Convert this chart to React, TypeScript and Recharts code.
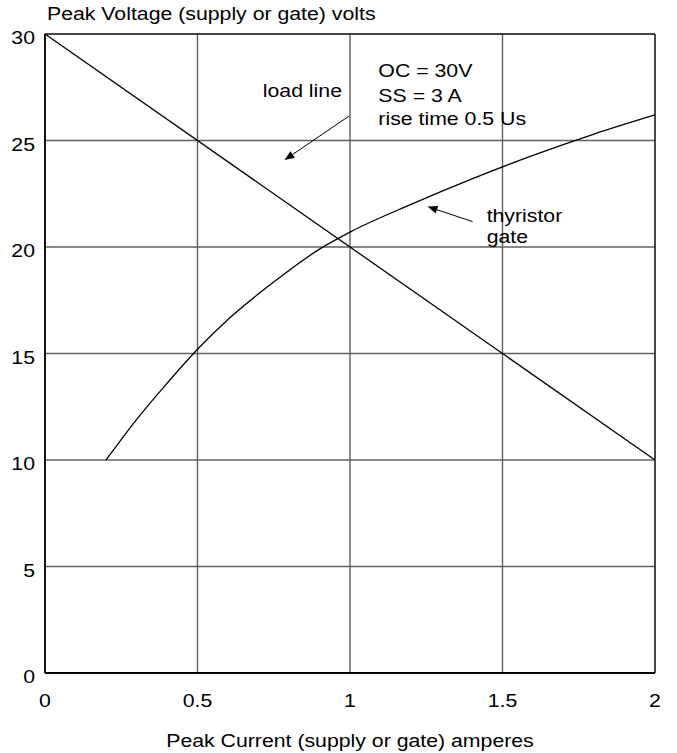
import React from 'react';
import {
  LineChart,
  Line,
  XAxis,
  YAxis,
  CartesianGrid,
  ReferenceArea,
  ReferenceLine,
  ReferenceDot,
  Label,
} from 'recharts';

const xTicks = [0, 0.5, 1, 1.5, 2];
const yTicks = [0, 5, 10, 15, 20, 25, 30];

// load line: open circuit 30 V, falling to 10 V at 2 A
const loadLine = [
  { current: 0, voltage: 30 },
  { current: 2, voltage: 10 },
];

// thyristor gate characteristic
const gateCurrent = [0.2, 0.3, 0.4, 0.5, 0.6, 0.7, 0.8, 0.9, 1.0, 1.2, 1.4, 1.6, 1.8, 2.0];
const gateVoltage = [10, 11.9, 13.6, 15.2, 16.6, 17.8, 18.9, 19.9, 20.7, 22.0, 23.2, 24.3, 25.3, 26.2];

const gateLine = gateCurrent.map((c, i) => ({ current: c, voltage: gateVoltage[i] }));

// annotation text, data coords of the baseline start
const notes = [
  { x: 0.714, y: 27.06, text: 'load line' },
  { x: 1.093, y: 28.0, text: 'OC = 30V' },
  { x: 1.093, y: 26.82, text: 'SS = 3 A' },
  { x: 1.093, y: 25.73, text: 'rise time 0.5 Us' },
  { x: 1.448, y: 21.19, text: 'thyristor' },
  { x: 1.448, y: 20.17, text: 'gate' },
];

// arrows: tail -> tip
const arrows = [
  { from: { x: 0.997, y: 26.15 }, to: { x: 0.785, y: 24.08 } },
  { from: { x: 1.402, y: 21.19 }, to: { x: 1.254, y: 21.9 } },
];

const FONT = '"Liberation Sans", Arial, sans-serif';
const FS = 18.5;
const STRETCH = 1.15; // source glyphs are a bit wider than Arial

function SText({ x, y, anchor = 'start', children }: any) {
  return (
    <text
      transform={`translate(${x},${y}) scale(${STRETCH},1)`}
      textAnchor={anchor}
      fontSize={FS}
      fontFamily={FONT}
      fill="#000"
    >
      {children}
    </text>
  );
}

function XTick(props: any) {
  const { x, y, payload } = props;
  return <SText x={x} y={y + 34} anchor="middle">{payload.value}</SText>;
}

function YTick(props: any) {
  const { y, payload } = props;
  return <SText x={35} y={y + 10} anchor="end">{payload.value}</SText>;
}

function ArrowShape(props: any) {
  const { x1, y1, x2, y2 } = props;
  const ang = Math.atan2(y2 - y1, x2 - x1);
  const len = 10;
  const half = 4;
  const bx = x2 - len * Math.cos(ang);
  const by = y2 - len * Math.sin(ang);
  const px = -Math.sin(ang) * half;
  const py = Math.cos(ang) * half;
  return (
    <g>
      <line x1={x1} y1={y1} x2={bx} y2={by} stroke="#000" strokeWidth={1} />
      <polygon points={`${x2},${y2} ${bx + px},${by + py} ${bx - px},${by - py}`} fill="#000" />
    </g>
  );
}

export default function App() {
  return (
    <div style={{ position: 'absolute', left: 0, top: 0, background: '#fff' }}>
      <LineChart
        width={677}
        height={753}
        margin={{ top: 34, right: 22, left: 0, bottom: 0 }}
        style={{ fontFamily: FONT }}
      >
        <CartesianGrid stroke="#606060" strokeWidth={1.4} />
        <XAxis
          type="number"
          dataKey="current"
          domain={[0, 2]}
          ticks={xTicks}
          interval={0}
          height={80}
          tickSize={0}
          tickMargin={0}
          axisLine={{ stroke: '#000', strokeWidth: 2 }}
          tick={<XTick />}
          allowDuplicatedCategory={false}
        >
          <Label
            content={(p: any) => {
              const vb = p.viewBox;
              return (
                <SText x={vb.x + vb.width / 2} y={vb.y + 74} anchor="middle">
                  Peak Current (supply or gate) amperes
                </SText>
              );
            }}
          />
        </XAxis>
        <YAxis
          type="number"
          domain={[0, 30]}
          ticks={yTicks}
          interval={0}
          width={45}
          tickSize={0}
          tickMargin={0}
          axisLine={{ stroke: '#000', strokeWidth: 1.5 }}
          tick={<YTick />}
        >
          <Label
            content={() => (
              <SText x={47} y={20}>
                Peak Voltage (supply or gate) volts
              </SText>
            )}
          />
        </YAxis>
        <ReferenceArea x1={0} x2={2} y1={0} y2={30} fill="none" stroke="#000" strokeWidth={1} ifOverflow="visible" />
        <Line
          data={loadLine}
          dataKey="voltage"
          type="linear"
          stroke="#000"
          strokeWidth={1.3}
          dot={false}
          isAnimationActive={false}
        />
        <Line
          data={gateLine}
          dataKey="voltage"
          type="monotone"
          stroke="#000"
          strokeWidth={1.3}
          dot={false}
          isAnimationActive={false}
        />
        {arrows.map((a, i) => (
          <ReferenceLine
            key={'a' + i}
            segment={[a.from, a.to]}
            ifOverflow="visible"
            shape={ArrowShape}
          />
        ))}
        {notes.map((n, i) => (
          <ReferenceDot
            key={'n' + i}
            x={n.x}
            y={n.y}
            r={0}
            ifOverflow="visible"
            shape={(p: any) => <SText x={p.cx} y={p.cy}>{n.text}</SText>}
          />
        ))}
      </LineChart>
    </div>
  );
}
